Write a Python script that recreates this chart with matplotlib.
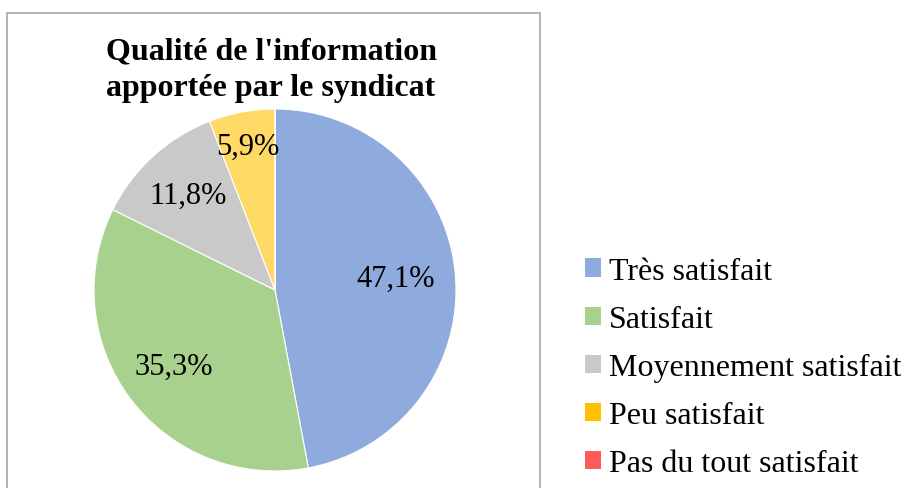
import numpy as np
import matplotlib.pyplot as plt
from matplotlib.patches import Rectangle, Patch

plt.rcParams['font.family'] = ['Liberation Serif', 'DejaVu Serif']

# données
categories = ["Très satisfait", "Satisfait", "Moyennement satisfait",
              "Peu satisfait", "Pas du tout satisfait"]
valeurs = [47.1, 35.3, 11.8, 5.9, 0.0]
couleurs_pie = ["#8FAADC", "#A9D18E", "#C9C9C9", "#FFD966", "#FF5B5B"]
couleurs_leg = ["#8FAADC", "#A9D18E", "#C9C9C9", "#FFC000", "#FF5B5B"]
dist_labels = [0.67, 0.70, 0.71, 0.81, 0.7]

W, H = 909, 489
fig = plt.figure(figsize=(W/100, H/100), dpi=100)

# cadre du graphique
fig.patches.append(Rectangle((7/W, -0.01), (540-7)/W, (H-14)/H + 0.01,
                             transform=fig.transFigure, fill=False,
                             edgecolor="#A6A6A6", linewidth=1.2))

cx, cy, r = 275, 291, 181
ax = fig.add_axes([(cx-r)/W, (H-cy-r)/H, 2*r/W, 2*r/H])
wedges, _ = ax.pie(valeurs, colors=couleurs_pie, startangle=90,
                   counterclock=False, radius=1.0,
                   wedgeprops=dict(linewidth=0.8, edgecolor="white"))
ax.set_xlim(-1, 1)
ax.set_ylim(-1, 1)
ax.set_aspect("equal")

total = sum(valeurs)
cumul = 0
for v, d in zip(valeurs, dist_labels):
    if v > 0:
        ang = np.deg2rad(90 - (cumul + v/2) / total * 360)
        ax.text(d*np.cos(ang), d*np.sin(ang),
                ("%.1f%%" % v).replace(".", ","),
                ha="center", va="center", fontsize=22)
    cumul += v

fig.text(271/W, 1 - 70/H, "Qualité de l'information\napportée par le syndicat",
         ha="center", va="center", fontsize=23, fontweight="bold",
         linespacing=1.32)

handles = [Patch(facecolor=c, edgecolor="none") for c in couleurs_leg]
fig.legend(handles, categories, loc="upper left",
           bbox_to_anchor=(572/W, 1 - 245/H), frameon=False,
           borderaxespad=0, fontsize=23, handlelength=0.5, handleheight=0.5,
           handletextpad=0.25, labelspacing=0.6)

fig.savefig("out.png", dpi=100)
